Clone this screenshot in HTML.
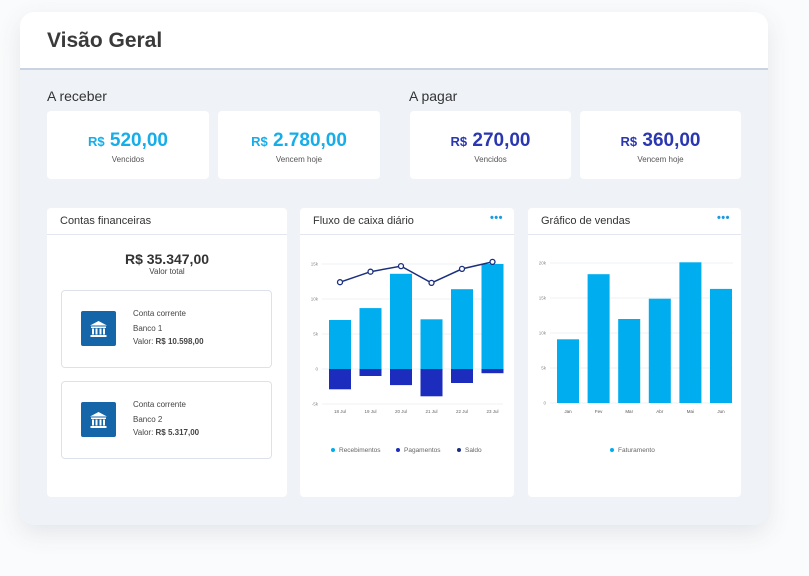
<!DOCTYPE html>
<html><head><meta charset="utf-8"><style>
*{box-sizing:border-box;margin:0;padding:0}
body{width:809px;height:576px;background:#fafbfc;position:relative;overflow:hidden;font-family:"Liberation Sans",sans-serif;color:#333}
.abs{position:absolute}
#card{left:20px;top:12px;width:748px;height:513px;border-radius:14px;background:#eff3f8;box-shadow:0 8px 24px rgba(60,70,100,.12);overflow:hidden}
#hdr{left:0;top:0;width:748px;height:58px;background:#fff;border-bottom:2px solid #c9d3e2}
.box{background:#fff;border-radius:4px;text-align:center}
.val{font-weight:bold;font-size:19px;margin-top:19px}
.val small{font-size:13px}
.lab{font-size:8px;color:#555;margin-top:3px}
.panel{background:#fff;border-radius:4px}
.ph{height:27px;border-bottom:1px solid #e3e6ee;font-size:11px;padding:7px 0 0 13px;color:#333}
.dots{position:absolute;right:11px;top:4px;color:#1a9be0;font-size:11px;font-weight:bold;letter-spacing:0.5px}
.acc{left:14px;width:211px;border:1px solid #dde2ea;border-radius:4px;background:#fff}
.ico{left:19px;top:20px;width:35px;height:35px;background:#1466a8;border-radius:2px}
.at{left:71px;font-size:8px;color:#444}
</style></head><body>
<div id="card" class="abs">
 <div id="hdr" class="abs">
  <div class="abs" style="left:27px;top:17px;font-size:21px;font-weight:bold;color:#3a3a3a">Visão Geral</div>
 </div>
</div>
<div class="abs" style="left:47px;top:88px;font-size:14px;color:#333">A receber</div>
<div class="abs" style="left:409px;top:88px;font-size:14px;color:#333">A pagar</div>
<div class="abs box" style="left:47px;top:111px;width:162px;height:68px"><div class="val" style="color:#16ade9"><small>R$</small> 520,00</div><div class="lab">Vencidos</div></div>
<div class="abs box" style="left:218px;top:111px;width:162px;height:68px"><div class="val" style="color:#16ade9"><small>R$</small> 2.780,00</div><div class="lab">Vencem hoje</div></div>
<div class="abs box" style="left:410px;top:111px;width:161px;height:68px"><div class="val" style="color:#2a37b0"><small>R$</small> 270,00</div><div class="lab">Vencidos</div></div>
<div class="abs box" style="left:580px;top:111px;width:161px;height:68px"><div class="val" style="color:#2a37b0"><small>R$</small> 360,00</div><div class="lab">Vencem hoje</div></div>

<div class="abs panel" style="left:47px;top:208px;width:240px;height:289px">
 <div class="ph">Contas financeiras</div>
 <div class="abs" style="left:0;top:43px;width:240px;text-align:center;font-size:14px;font-weight:bold;color:#333">R$ 35.347,00</div>
 <div class="abs" style="left:0;top:59px;width:240px;text-align:center;font-size:8px;color:#444">Valor total</div>
 <div class="abs acc" style="top:82px;height:78px">
  <div class="abs ico"><svg width="35" height="35"><g fill="#fff"><polygon points="17.5,10 9,14.5 26,14.5"/><rect x="10" y="15.5" width="15" height="1.5"/><rect x="11" y="17.5" width="2" height="6"/><rect x="14.5" y="17.5" width="2" height="6"/><rect x="18.5" y="17.5" width="2" height="6"/><rect x="22" y="17.5" width="2" height="6"/><rect x="9.5" y="24" width="16" height="2"/></g></svg></div>
  <div class="abs at" style="top:18px">Conta corrente</div><div class="abs at" style="top:33px">Banco 1</div><div class="abs at" style="top:46px">Valor: <b>R$ 10.598,00</b></div>
 </div>
 <div class="abs acc" style="top:173px;height:78px">
  <div class="abs ico"><svg width="35" height="35"><g fill="#fff"><polygon points="17.5,10 9,14.5 26,14.5"/><rect x="10" y="15.5" width="15" height="1.5"/><rect x="11" y="17.5" width="2" height="6"/><rect x="14.5" y="17.5" width="2" height="6"/><rect x="18.5" y="17.5" width="2" height="6"/><rect x="22" y="17.5" width="2" height="6"/><rect x="9.5" y="24" width="16" height="2"/></g></svg></div>
  <div class="abs at" style="top:18px">Conta corrente</div><div class="abs at" style="top:33px">Banco 2</div><div class="abs at" style="top:46px">Valor: <b>R$ 5.317,00</b></div>
 </div>
</div>

<div class="abs panel" style="left:300px;top:208px;width:214px;height:289px">
 <div class="ph">Fluxo de caixa diário</div><div class="dots">•••</div>
 <svg id="c1" class="abs" style="left:0;top:0" width="214" height="289" viewBox="300 208 214 289"></svg>
</div>
<div class="abs panel" style="left:528px;top:208px;width:213px;height:289px">
 <div class="ph">Gráfico de vendas</div><div class="dots">•••</div>
 <svg id="c2" class="abs" style="left:0;top:0" width="213" height="289" viewBox="528 208 213 289"></svg>
</div>
<script>
const days=["18 Jul","19 Jul","20 Jul","21 Jul","22 Jul","23 Jul"];
const receb=[7.0,8.7,13.6,7.1,11.4,15.0];
const pagam=[-2.9,-1.0,-2.3,-3.9,-2.0,-0.6];
const saldo=[12.4,13.9,14.7,12.3,14.3,15.3];
const ticks1=[-5,0,5,10,15];
const tickLab1=["-5k","0","5k","10k","15k"];
const months=["Jan","Fev","Mar","Abr","Mai","Jun"];
const fatur=[9.1,18.4,12.0,14.9,20.1,16.3];
const ticks2=[0,5,10,15,20];
const tickLab2=["0","5k","10k","15k","20k"];
const NS="http://www.w3.org/2000/svg";
function mk(svg,t,a){const e=document.createElementNS(NS,t);for(const k in a)e.setAttribute(k,a[k]);svg.appendChild(e);return e;}
(function(){
const s=document.getElementById('c1');
const y=v=>369-v*7; const x0=329,step=30.5,bw=22; const xc=i=>x0+i*step+bw/2;
ticks1.forEach((t,i)=>{const g=mk(s,'line',{x1:322,x2:503,y1:y(t),y2:y(t),stroke:'#eef0f5','stroke-width':1});
const tx=mk(s,'text',{x:318,y:y(t)+1.5,'font-size':4.5,fill:'#888','text-anchor':'end'});tx.textContent=tickLab1[i];});
days.forEach((d,i)=>{
const r=mk(s,'rect',{x:x0+i*step,y:y(receb[i]),width:bw,height:y(0)-y(receb[i]),fill:'#00adee'});
const p=mk(s,'rect',{x:x0+i*step,y:y(0),width:bw,height:y(pagam[i])-y(0),fill:'#1c2dbd'});
const t=mk(s,'text',{x:xc(i),y:413,'font-size':4.5,fill:'#666','text-anchor':'middle'});t.textContent=d;});
const pl=mk(s,'polyline',{points:saldo.map((v,i)=>xc(i)+','+y(v)).join(' '),fill:'none',stroke:'#1b2f7e','stroke-width':1.5});
saldo.forEach((v,i)=>{const c=mk(s,'circle',{cx:xc(i),cy:y(v),r:2.5,fill:'#fff',stroke:'#1b2f7e','stroke-width':1.3});});
const lg=[["Recebimentos","#00adee",333],["Pagamentos","#1c2dbd",398],["Saldo","#1b2f7e",459]];
lg.forEach(l=>{const c=mk(s,'circle',{cx:l[2],cy:450,r:2,fill:l[1]});
const t=mk(s,'text',{x:l[2]+6,y:452,'font-size':6.5,fill:'#666'});t.textContent=l[0];});
})();
(function(){
const s=document.getElementById('c2');
const y=v=>403-v*7; const x0=557,step=30.6,bw=22;
ticks2.forEach((t,i)=>{const g=mk(s,'line',{x1:550,x2:733,y1:y(t),y2:y(t),stroke:'#eef0f5','stroke-width':1});
const tx=mk(s,'text',{x:546,y:y(t)+1.5,'font-size':4.5,fill:'#888','text-anchor':'end'});tx.textContent=tickLab2[i];});
months.forEach((m,i)=>{const r=mk(s,'rect',{x:x0+i*step,y:y(fatur[i]),width:bw,height:y(0)-y(fatur[i]),fill:'#00adee'});
const t=mk(s,'text',{x:x0+i*step+bw/2,y:413,'font-size':4.5,fill:'#555','text-anchor':'middle'});t.textContent=m;});
const c=mk(s,'circle',{cx:612,cy:450,r:2,fill:'#00adee'});
const t=mk(s,'text',{x:618,y:452,'font-size':6.5,fill:'#666'});t.textContent="Faturamento";
})();
</script>
</body></html>
